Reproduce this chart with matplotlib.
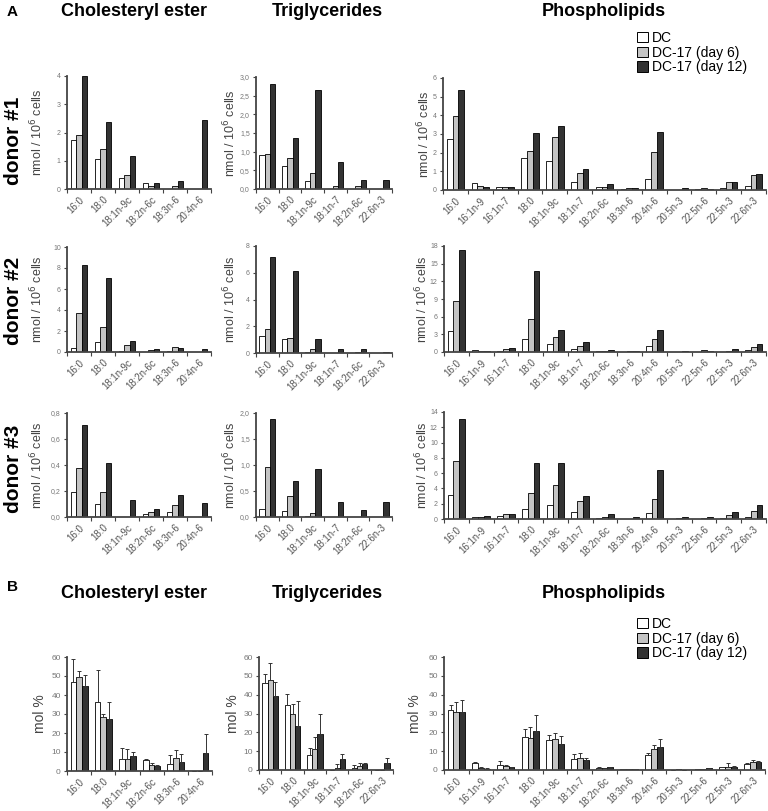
import numpy as np
import matplotlib.pyplot as plt
from matplotlib.patches import Patch

plt.rcParams['font.family'] = ['Liberation Sans', 'DejaVu Sans']

# CATEGORIES
ce_cats = ['16:0', '18:0', '18:1n-9c', '18:2n-6c', '18:3n-6', '20:4n-6']
tg_cats = ['16:0', '18:0', '18:1n-9c', '18:1n-7', '18:2n-6c', '22:6n-3']
pl_cats = ['16:0', '16:1n-9', '16:1n-7', '18:0', '18:1n-9c', '18:1n-7', '18:2n-6c',
           '18:3n-6', '20:4n-6', '20:5n-3', '22:5n-6', '22:5n-3', '22:6n-3']

# DONOR #1 (nmol / 10^6 cells)
d1_ce_dc = [1.75, 1.05, 0.40, 0.22, 0.0, 0.0]
d1_ce_d6 = [1.92, 1.42, 0.50, 0.12, 0.12, 0.0]
d1_ce_d12 = [4.0, 2.38, 1.18, 0.22, 0.28, 2.45]
d1_tg_dc = [0.92, 0.62, 0.22, 0.0, 0.0, 0.0]
d1_tg_d6 = [0.95, 0.83, 0.42, 0.07, 0.07, 0.0]
d1_tg_d12 = [2.81, 1.37, 2.66, 0.72, 0.25, 0.23]
d1_pl_dc = [2.72, 0.38, 0.15, 1.72, 1.55, 0.42, 0.17, 0.07, 0.58, 0.0, 0.05, 0.10, 0.22]
d1_pl_d6 = [3.98, 0.20, 0.15, 2.08, 2.85, 0.90, 0.17, 0.10, 2.03, 0.0, 0.10, 0.45, 0.80]
d1_pl_d12 = [5.35, 0.15, 0.15, 3.08, 3.42, 1.12, 0.30, 0.10, 3.12, 0.13, 0.08, 0.45, 0.85]

# DONOR #2
d2_ce_dc = [0.40, 0.95, 0.10, 0.02, 0.05, 0.0]
d2_ce_d6 = [3.70, 2.35, 0.65, 0.15, 0.50, 0.0]
d2_ce_d12 = [8.30, 7.05, 1.05, 0.30, 0.35, 0.30]
d2_tg_dc = [1.25, 1.07, 0.05, 0.0, 0.0, 0.0]
d2_tg_d6 = [1.80, 1.15, 0.32, 0.0, 0.05, 0.0]
d2_tg_d12 = [7.20, 6.15, 1.07, 0.32, 0.32, 0.05]
d2_pl_dc = [3.65, 0.30, 0.15, 2.25, 1.35, 0.50, 0.10, 0.05, 0.96, 0.0, 0.05, 0.0, 0.35]
d2_pl_d6 = [8.65, 0.25, 0.50, 5.56, 2.58, 1.00, 0.20, 0.10, 2.25, 0.0, 0.30, 0.10, 0.80]
d2_pl_d12 = [17.35, 0.25, 0.70, 13.7, 3.82, 1.74, 0.30, 0.15, 3.82, 0.20, 0.20, 0.50, 1.30]

# DONOR #3
d3_ce_dc = [0.19, 0.10, 0.0, 0.023, 0.038, 0.0]
d3_ce_d6 = [0.375, 0.195, 0.0, 0.036, 0.092, 0.0]
d3_ce_d12 = [0.705, 0.415, 0.13, 0.058, 0.17, 0.11]
d3_tg_dc = [0.15, 0.12, 0.02, 0.0, 0.0, 0.0]
d3_tg_d6 = [0.96, 0.41, 0.08, 0.0, 0.0, 0.0]
d3_tg_d12 = [1.89, 0.70, 0.92, 0.29, 0.13, 0.29]
d3_pl_dc = [3.1, 0.30, 0.45, 1.30, 1.78, 0.90, 0.10, 0.0, 0.83, 0.0, 0.0, 0.15, 0.20]
d3_pl_d6 = [7.65, 0.30, 0.65, 3.43, 4.50, 2.40, 0.25, 0.0, 2.65, 0.10, 0.10, 0.50, 1.00]
d3_pl_d12 = [13.1, 0.35, 0.65, 7.35, 7.35, 3.04, 0.60, 0.25, 6.45, 0.20, 0.30, 0.92, 1.85]

# B: MEAN mol % AND ERRORS
b_ce_dc = [47.0, 36.3, 6.5, 5.6, 3.9, 0.0]
b_ce_d6 = [49.5, 28.4, 6.5, 3.0, 6.8, 0.0]
b_ce_d12 = [45.0, 27.5, 7.7, 2.5, 4.7, 9.6]
b_ce_dc_err = [12.0, 16.7, 5.8, 0.9, 4.3, 0.0]
b_ce_d6_err = [3.0, 1.8, 5.3, 1.2, 4.4, 0.0]
b_ce_d12_err = [5.5, 8.8, 2.3, 0.8, 4.4, 9.7]

b_tg_dc = [46.3, 34.7, 8.2, 0.0, 1.2, 0.0]
b_tg_d6 = [48.0, 29.8, 10.9, 1.2, 2.1, 0.0]
b_tg_d12 = [39.3, 23.2, 19.1, 6.1, 3.3, 3.9]
b_tg_dc_err = [4.9, 5.7, 3.6, 0.0, 1.3, 0.0]
b_tg_d6_err = [8.8, 5.3, 6.6, 1.8, 1.4, 0.0]
b_tg_d12_err = [7.5, 13.6, 10.5, 2.5, 0.3, 2.6]

b_pl_dc = [32.1, 3.5, 2.6, 17.6, 15.9, 5.8, 1.2, 0.6, 7.9, 0.0, 0.3, 1.4, 3.2]
b_pl_d6 = [30.9, 1.2, 2.3, 16.8, 16.2, 6.5, 1.1, 0.6, 10.9, 0.3, 0.5, 1.8, 4.4]
b_pl_d12 = [30.9, 0.7, 1.4, 20.6, 13.6, 5.3, 1.4, 0.4, 12.3, 0.0, 0.8, 1.8, 4.1]
b_pl_dc_err = [2.6, 0.5, 2.2, 4.4, 2.6, 2.7, 0.4, 0.1, 1.3, 0.0, 0.1, 0.2, 0.3]
b_pl_d6_err = [5.0, 0.2, 0.5, 5.8, 3.7, 2.7, 0.2, 0.1, 2.3, 0.1, 0.1, 1.7, 0.9]
b_pl_d12_err = [6.2, 0.1, 0.4, 8.5, 4.6, 1.2, 0.4, 0.1, 3.9, 0.0, 0.2, 0.3, 0.7]

legend_labels = ['DC', 'DC-17 (day 6)', 'DC-17 (day 12)']
bar_colors = ['white', '#c4c4c4', '#333333']

W, H = 768, 811
fig = plt.figure(figsize=(W / 100, H / 100), dpi=100)


def add_ax(left, right, top, bottom):
    return fig.add_axes([left / W, 1 - bottom / H, (right - left) / W, (bottom - top) / H])


def panel(ax, cats, series, ymax, ystep, ylabel, ylab_x, comma=False, errs=None):
    x = np.arange(len(cats))
    w = 0.235
    for i, (vals, col) in enumerate(zip(series, bar_colors)):
        yerr = None
        if errs is not None:
            yerr = [np.zeros(len(cats)), errs[i]]
        ax.bar(x + (i - 1) * w, vals, w, color=col, edgecolor='black', linewidth=0.6,
               yerr=yerr, error_kw=dict(ecolor='#333333', elinewidth=0.7, capsize=1.5, capthick=0.7))
    ax.set_xlim(-0.5, len(cats) - 0.5)
    ax.set_ylim(0, ymax)
    ticks = np.arange(0, ymax + ystep / 2, ystep)
    ax.set_yticks(ticks)
    if comma:
        ax.set_yticklabels([('%.1f' % t).replace('.', ',') for t in ticks])
    else:
        ax.set_yticklabels(['%d' % t for t in ticks])
    ax.set_xticks(x)
    ax.set_xticklabels(cats, rotation=45, ha='right', rotation_mode='anchor', fontsize=7, color='#555555')
    ax.set_xticks(np.arange(-0.5, len(cats)), minor=True)
    ax.tick_params(axis='x', which='major', length=0, pad=4)
    ax.tick_params(axis='x', which='minor', length=3, width=0.8, color='#444444', direction='out')
    ax.tick_params(axis='y', length=2.5, width=0.8, color='#444444', labelsize=5 if errs is None else 6,
                   labelcolor='#777777', pad=2)
    for s in ['top', 'right']:
        ax.spines[s].set_visible(False)
    for s in ['left', 'bottom']:
        ax.spines[s].set_color('#444444')
        ax.spines[s].set_linewidth(1.3)
    ax.set_ylabel(ylabel, fontsize=9 if errs is None else 10, color='#444444')
    # right edge of the rotated label at a given figure x pixel
    bbox = ax.get_position()
    ax.yaxis.set_label_coords((ylab_x / W - bbox.x0) / bbox.width, 0.5)


ylab = 'nmol / 10$^6$ cells'

# ROW 1
ax = add_ax(67, 211, 76, 189)
panel(ax, ce_cats, [d1_ce_dc, d1_ce_d6, d1_ce_d12], 4, 1, ylab, 45)
ax = add_ax(256, 392, 77, 189)
panel(ax, tg_cats, [d1_tg_dc, d1_tg_d6, d1_tg_d12], 3, 0.5, ylab, 238, comma=True)
ax = add_ax(443, 766, 78, 190)
panel(ax, pl_cats, [d1_pl_dc, d1_pl_d6, d1_pl_d12], 6, 1, ylab, 432)

# ROW 2
ax = add_ax(67, 211, 247, 352)
panel(ax, ce_cats, [d2_ce_dc, d2_ce_d6, d2_ce_d12], 10, 2, ylab, 45)
ax = add_ax(256, 392, 246, 353)
panel(ax, tg_cats, [d2_tg_dc, d2_tg_d6, d2_tg_d12], 8, 2, ylab, 238)
ax = add_ax(444, 766, 246, 352)
panel(ax, pl_cats, [d2_pl_dc, d2_pl_d6, d2_pl_d12], 18, 3, ylab, 430)

# ROW 3
ax = add_ax(67, 211, 413, 517)
panel(ax, ce_cats, [d3_ce_dc, d3_ce_d6, d3_ce_d12], 0.8, 0.2, ylab, 45, comma=True)
ax = add_ax(256, 392, 413, 517)
panel(ax, tg_cats, [d3_tg_dc, d3_tg_d6, d3_tg_d12], 2, 0.5, ylab, 238, comma=True)
ax = add_ax(444, 766, 412, 519)
panel(ax, pl_cats, [d3_pl_dc, d3_pl_d6, d3_pl_d12], 14, 2, ylab, 430)

# B
ax = add_ax(67, 212, 657, 771)
panel(ax, ce_cats, [b_ce_dc, b_ce_d6, b_ce_d12], 60, 10, 'mol %', 47,
      errs=[b_ce_dc_err, b_ce_d6_err, b_ce_d12_err])
ax = add_ax(259, 393, 657, 770)
panel(ax, tg_cats, [b_tg_dc, b_tg_d6, b_tg_d12], 60, 10, 'mol %', 240,
      errs=[b_tg_dc_err, b_tg_d6_err, b_tg_d12_err])
ax = add_ax(444, 765, 657, 770)
panel(ax, pl_cats, [b_pl_dc, b_pl_d6, b_pl_d12], 60, 10, 'mol %', 422,
      errs=[b_pl_dc_err, b_pl_d6_err, b_pl_d12_err])

# TITLES AND LABELS
for ytop in [12, 594]:
    fig.text(134 / W, 1 - ytop / H, 'Cholesteryl ester', fontsize=13, fontweight='bold', ha='center', va='center')
    fig.text(327 / W, 1 - ytop / H, 'Triglycerides', fontsize=13, fontweight='bold', ha='center', va='center')
    fig.text(604 / W, 1 - ytop / H, 'Phospholipids', fontsize=13, fontweight='bold', ha='center', va='center')
fig.text(12 / W, 1 - 12 / H, 'A', fontsize=11, fontweight='bold', ha='center', va='center')
fig.text(12 / W, 1 - 587 / H, 'B', fontsize=11, fontweight='bold', ha='center', va='center')
for yc, lab in zip([141, 301, 469], ['donor #1', 'donor #2', 'donor #3']):
    fig.text(14 / W, 1 - yc / H, lab, fontsize=15, fontweight='bold', rotation=90, ha='center', va='center')

# LEGENDS
handles = [Patch(facecolor=c, edgecolor='black', linewidth=0.7) for c in bar_colors]
for ytop in [31, 617]:
    fig.legend(handles, legend_labels, loc='upper left', bbox_to_anchor=(637 / W, 1 - ytop / H),
               frameon=False, fontsize=10, handlelength=0.8, handleheight=0.8, handletextpad=0.3,
               labelspacing=0.05, borderpad=0, borderaxespad=0)

fig.savefig('out.png', dpi=100)
